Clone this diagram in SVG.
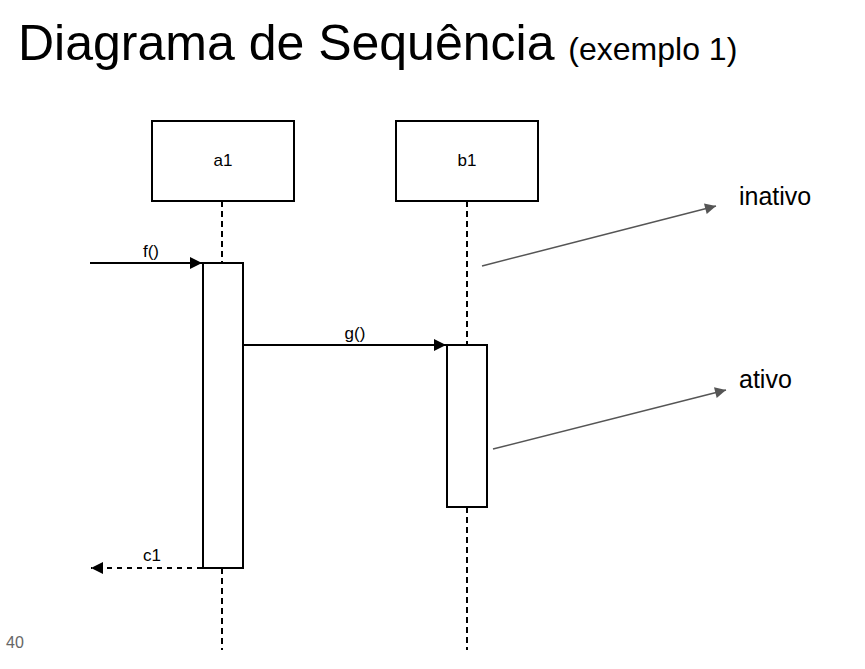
<svg xmlns="http://www.w3.org/2000/svg" width="865" height="669" viewBox="0 0 865 669">
<defs>
<style>
.box{fill:#fff;stroke:#000;stroke-width:2}
.life{stroke:#000;stroke-width:2;stroke-dasharray:6 4;fill:none}
.msg{stroke:#000;stroke-width:2;fill:none}
.ret{stroke:#000;stroke-width:2;stroke-dasharray:5 5;fill:none}
.note{stroke:#555;stroke-width:1.5;fill:none}
.lbl{font-family:"Liberation Sans",Arial,sans-serif;font-size:17px;fill:#000}
.big{font-family:"Liberation Sans",Arial,sans-serif;font-size:25px;fill:#000}
</style>
<marker id="ah" viewBox="0 0 10 10" refX="10" refY="5" markerWidth="17" markerHeight="12" markerUnits="userSpaceOnUse" orient="auto">
<path d="M0,0 L10,5 L0,10 z" fill="#000"/>
</marker>
<marker id="ahg" viewBox="0 0 10 10" refX="10" refY="5" markerWidth="15" markerHeight="11" markerUnits="userSpaceOnUse" orient="auto">
<path d="M0,0 L10,5 L0,10 z" fill="#555"/>
</marker>
</defs>
<rect width="865" height="669" fill="#fff"/>
<text x="18" y="60" font-family="Liberation Sans, Arial, sans-serif" font-size="50" fill="#000">Diagrama de Sequência <tspan font-size="32">(exemplo 1)</tspan></text>
<text x="6" y="648" font-family="Liberation Sans, Arial, sans-serif" font-size="16" fill="#666">40</text>
<g id="connectors">
<line class="life" x1="222" y1="201" x2="222" y2="263"/>
<line class="life" x1="222" y1="568" x2="222" y2="650"/>
<line class="life" x1="467" y1="201" x2="467" y2="345"/>
<line class="life" x1="467" y1="507" x2="467" y2="650"/>
<line class="msg" x1="90" y1="263" x2="202" y2="263" marker-end="url(#ah)"/>
<text class="lbl" x="151" y="257" text-anchor="middle">f()</text>
<line class="msg" x1="243" y1="345" x2="446" y2="345" marker-end="url(#ah)"/>
<text class="lbl" x="355" y="339" text-anchor="middle">g()</text>
<line class="ret" x1="202" y1="568" x2="91" y2="568" marker-end="url(#ah)"/>
<text class="lbl" x="152" y="561" text-anchor="middle">c1</text>
<line class="note" x1="482" y1="266" x2="716" y2="206" marker-end="url(#ahg)"/>
<line class="note" x1="493" y1="449" x2="726" y2="390" marker-end="url(#ahg)"/>
</g>
<g id="a1">
<rect class="box" x="152" y="121" width="142" height="80"/>
<text class="lbl" x="223" y="166" text-anchor="middle">a1</text>
</g>
<g id="b1">
<rect class="box" x="396" y="121" width="142" height="80"/>
<text class="lbl" x="467" y="166" text-anchor="middle">b1</text>
</g>
<g id="a1-activation">
<rect class="box" x="203" y="263" width="40" height="305"/>
</g>
<g id="b1-activation">
<rect class="box" x="447" y="345" width="40" height="162"/>
</g>
<g id="inativo">
<text class="big" x="739" y="205">inativo</text>
</g>
<g id="ativo">
<text class="big" x="739" y="388">ativo</text>
</g>
</svg>
